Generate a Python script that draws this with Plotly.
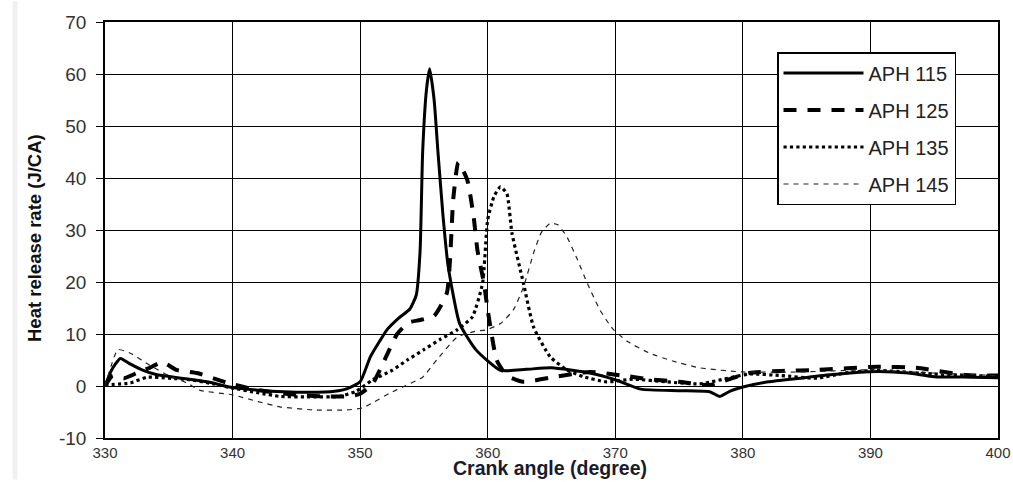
import plotly.graph_objects as go

# Crank angle (degree) and heat release rate (J/CA)
aph115_x = [330, 330.5, 331.2, 332, 333, 334, 336, 338, 340, 342, 344, 346, 348, 349, 350,
            350.8, 351.5, 352.1, 353, 353.9, 354.4, 354.7, 354.9, 355.2, 355.45, 355.8, 356.1,
            356.5, 356.9, 357.8, 359.1, 361, 363, 365, 368, 370, 372, 375, 377.4, 378.2, 379,
            380, 382, 384.5, 387, 390.5, 393, 395, 398, 400]
aph115_y = [0, 3, 5.3, 4.2, 3, 2.2, 1.5, 0.8, -0.3, -0.8, -1.1, -1.2, -1.0, -0.5, 0.8,
            5.6, 8.5, 10.8, 13, 14.8, 17.5, 26, 45, 57, 61, 55, 45,
            32.6, 23, 12, 6.9, 3, 3.2, 3.5, 2.5, 1.2, -0.6, -0.9, -1.1, -2, -1,
            -0.2, 0.8, 1.5, 2.2, 2.8, 2.5, 1.8, 1.7, 1.6]

aph125_x = [330, 330.6, 331.5, 332.5, 333.5, 334.5, 335.6, 337.2, 339.6, 342, 345, 347, 349,
            350, 351, 351.8, 352.9, 353.8, 354.7, 355.8, 356.8, 357.3, 357.7, 358.4, 358.9,
            359.2, 359.7, 360.0, 360.3, 360.7, 361.5, 362.8, 365.1, 368, 370.6, 372.7, 375,
            377.4, 380.5, 383, 385.8, 390.5, 393.6, 397.5, 400]
aph125_y = [0, 2, 1.5, 2.5, 3.5, 4.6, 3.1, 2.5, 0.6, -0.8, -1.7, -2, -2,
            -1.5, 0.5, 4.4, 10, 12.2, 12.7, 13.5, 17.9, 36, 43, 39.6, 32.5,
            26, 19.8, 14.6, 10, 5, 2, 0.8, 1.7, 2.7, 2, 1.3, 0.8,
            0.2, 2.5, 2.9, 3.1, 3.7, 3.5, 2.1, 2]

aph135_x = [330, 332, 333.3, 335, 336.7, 338.5, 340, 342, 343.7, 346, 348.4, 349.7, 351,
            352.5, 353.7, 355, 356.3, 357.6, 358.8, 359.6, 360, 360.5, 361, 361.5, 361.9,
            362.8, 363.6, 364.9, 366.2, 367.5, 369.3, 371.4, 374, 376.6, 380.5, 383, 385.8,
            388, 390.5, 395, 400]
aph135_y = [0.2, 0.6, 1.7, 1.5, 1.2, 0.4, -0.4, -1.3, -2, -2.1, -2, -1, 1.2,
            3, 5, 7, 9, 10.8, 13.3, 19.8, 32, 36.5, 38.3, 37, 29.4,
            19.8, 11.3, 5.6, 3.1, 1.8, 0.8, 1.3, 0.8, 0.4, 2.3, 2, 1.5,
            2.5, 3, 2.3, 1.8]

aph145_x = [330, 330.5, 331, 332, 333.5, 335, 336.5, 337.4, 340, 342, 343.7, 346.3, 349,
            350.2, 351, 352.3, 353.5, 354.9, 356, 357.6, 359, 359.9, 361, 362, 362.8, 363.6,
            364.2, 364.9, 365.5, 366.2, 367, 367.8, 368.8, 369.8, 371, 372.7, 374.5, 376.6,
            380, 384.5, 389.7, 394.9, 400]
aph145_y = [0, 4, 7, 6.3, 4, 2, 0.5, -0.8, -1.7, -3, -4, -4.6, -4.6,
            -4.2, -3.2, -1.4, 0, 1.7, 5, 9.4, 10.5, 10.8, 12, 14.6, 19, 25.6,
            29.5, 31.3, 31, 28.7, 24.5, 19.8, 14.6, 11, 8.5, 6.3, 4.8, 3.5,
            2.7, 2.7, 3.1, 2.5, 2]

series_names = ["APH 115", "APH 125", "APH 135", "APH 145"]
x_ticks = [330, 340, 350, 360, 370, 380, 390, 400]
y_ticks = [-10, 0, 10, 20, 30, 40, 50, 60, 70]
y_tick_text = ["-10", "0", "10", "20", "30", "40", "50", "60", "70"]
x_title = "Crank angle (degree)"
y_title = "Heat release rate (J/CA)"

styles = [
    dict(width=3, dash="solid", color="black"),
    dict(width=4, dash="13px,11px", color="black"),
    dict(width=3.2, dash="dot", color="black"),
    dict(width=1.2, dash="5px,5px", color="#222"),
]
data = [(aph115_x, aph115_y), (aph125_x, aph125_y), (aph135_x, aph135_y), (aph145_x, aph145_y)]

fig = go.Figure()
for i, ((xs, ys), name, st) in enumerate(zip(data, series_names, styles)):
    fig.add_trace(go.Scatter(
        x=xs, y=ys, mode="lines", name=name, legendgroup=f"g{i}",
        line=dict(color=st["color"], width=st["width"], dash=st["dash"],
                  shape="spline", smoothing=0.5),
    ))

axis_common = dict(
    showgrid=True, gridcolor="black", gridwidth=1.3,
    showline=True, linecolor="black", linewidth=1.5, mirror=True,
    zeroline=False, automargin=False,
)

fig.update_layout(
    width=1013, height=482,
    margin=dict(l=105, r=15, t=22, b=44),
    paper_bgcolor="white", plot_bgcolor="white",
    font=dict(family="Liberation Sans, Arial, sans-serif", color="#222"),
    xaxis=dict(range=[330, 400], tickvals=x_ticks, ticks="", ticklabelstandoff=0,
               tickfont=dict(size=15, color="#333"), **axis_common),
    yaxis=dict(range=[-10, 70], tickvals=y_ticks, ticktext=y_tick_text,
               ticks="outside", ticklen=7, tickcolor="black", tickwidth=1.3,
               ticklabelstandoff=6,
               tickfont=dict(size=19, color="#333"), **axis_common),
    legend=dict(
        x=(777 - 105) / 893, y=(438 - 52) / 416, xanchor="left", yanchor="top",
        bgcolor="white", bordercolor="black", borderwidth=1.5,
        font=dict(size=20, color="#222"), itemwidth=80, tracegroupgap=8,
        traceorder="grouped",
    ),
    annotations=[
        dict(text=f"<b>{x_title}</b>", xref="paper", yref="paper",
             x=(550 - 105) / 893, y=(438 - 481) / 416, xanchor="center", yanchor="bottom",
             showarrow=False, font=dict(size=19.5, color="#1a1a2a")),
        dict(text=f"<b>{y_title}</b>", xref="paper", yref="paper",
             x=(35 - 105) / 893, y=(438 - 238) / 416, xanchor="center", yanchor="middle",
             textangle=-90, showarrow=False, font=dict(size=18.5, color="#111")),
    ],
    shapes=[
        dict(type="line", xref="paper", yref="paper",
             x0=(15 - 105) / 893, x1=(15 - 105) / 893, y0=-0.1, y1=1.05,
             line=dict(color="#f1f1f1", width=5)),
    ],
)

fig.write_html(
    "out.html",
    config={"displayModeBar": False},
    post_script="document.body.style.margin='0';document.body.style.overflow='hidden';",
)
